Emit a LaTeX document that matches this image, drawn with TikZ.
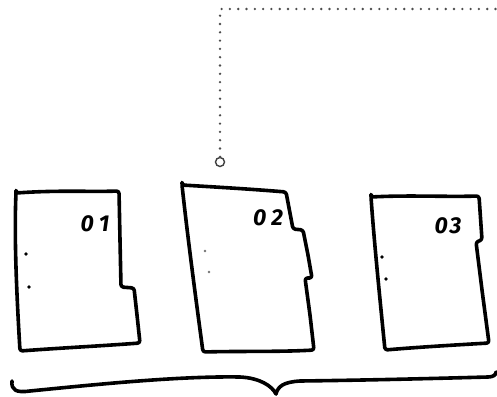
\documentclass[tikz,border=0pt]{standalone}
\usepackage{fontspec}
\newfontfamily\handfont{Fira Sans}
\begin{document}
\begin{tikzpicture}[x=1pt,y=-1pt,
  card/.style={draw=black,line width=3.6pt,line join=round,line cap=round,rounded corners=2.5pt,fill=white},
  cardno/.style={font=\handfont\bfseries\itshape\fontsize{23}{23}\selectfont,inner sep=0pt},
  hole/.style={circle,fill=black,inner sep=0pt,minimum size=3.6pt},
  faint/.style={circle,fill=black!55,inner sep=0pt,minimum size=2.6pt},
  link/.style={draw=black!70,line width=2.6pt,dash pattern=on 0pt off 8.3pt,line cap=round},
  port/.style={circle,draw=black!75,line width=1.4pt,fill=white,inner sep=0pt,minimum size=9pt},
  brace/.style={draw=black,line width=3.6pt,line cap=round,line join=round}]
\useasboundingbox (0,0) rectangle (497,396);

% first card
\draw[card] (16,193) .. controls (60,190) and (90,192) .. (119,191)
  -- (120,240) -- (121,287) -- (134,288) -- (137,315) -- (140,343)
  .. controls (100,346) and (60,348) .. (20,351)
  .. controls (17,300) and (14,240) .. cycle;
\node[cardno] (n1) at (95,224) {0\kern5pt 1};
\node[hole] (h1a) at (26,254) {};
\node[hole] (h1b) at (29,287) {};

% second card
\draw[card] (182,185) .. controls (215,187) and (250,189) .. (286,192)
  -- (293,229) -- (303,230) -- (308,255) -- (312,278) -- (305,278)
  -- (310,315) -- (314,350)
  .. controls (280,352) and (240,351) .. (203,352)
  .. controls (196,300) and (188,240) .. cycle;
\node[cardno] (n2) at (268,218) {0\kern5pt 2};
\node[faint] (h2a) at (205,251) {};
\node[faint] (h2b) at (209,272) {};

% third card
\draw[card] (371,197) .. controls (410,195) and (445,197) .. (479,196)
  -- (482,240) -- (476,242) -- (482,290) -- (489,343)
  .. controls (455,345) and (420,347) .. (385,350)
  .. controls (380,300) and (374,240) .. cycle;
\node[cardno] (n3) at (448,226) {0\kern2pt 3};
\node[hole] (h3a) at (382,257) {};
\node[hole] (h3b) at (386,279) {};

% dotted link leaving the middle card
\node[port] (p) at (220,162) {};
\coordinate (bend) at (220,9);
\coordinate (away) at (500,9);
\draw[link] (p.north) -- (bend) -- (away);

% brace under all three cards
\coordinate (bl) at (12,381);
\coordinate (bm) at (276,394);
\coordinate (br) at (496,372);
\draw[brace] (bl) .. controls (11,390) and (16,393) .. (30,391)
  .. controls (100,384) and (180,376) .. (240,377)
  .. controls (260,378) and (272,386) .. (bm)
  .. controls (278,386) and (284,382) .. (300,381)
  .. controls (380,380) and (450,378) .. (488,377)
  .. controls (493,377) and (496,375) .. (br);
\end{tikzpicture}
\end{document}
